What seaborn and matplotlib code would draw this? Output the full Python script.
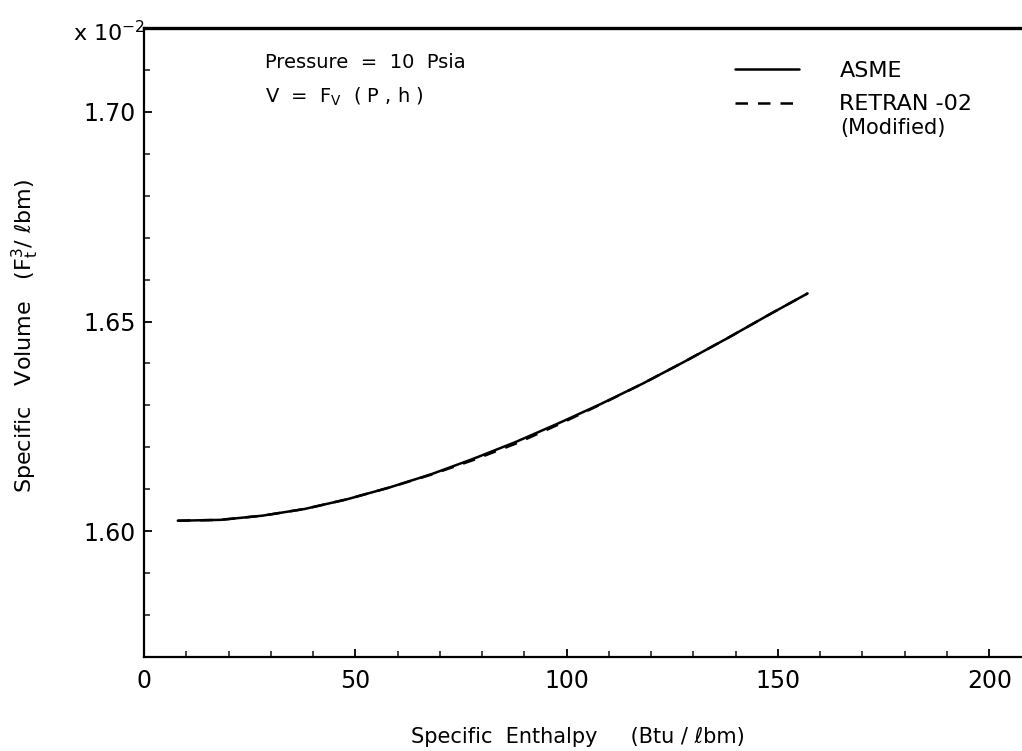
import numpy as np
import pandas as pd
import matplotlib
matplotlib.use("Agg")
import matplotlib.pyplot as plt
import seaborn as sns
from matplotlib.ticker import MultipleLocator, FixedLocator
from matplotlib.lines import Line2D

# ---- data (specific volume in units of 1e-2 ft3/lbm) ----
enthalpy = [8, 18, 28, 38, 48, 58, 68, 78, 88, 98, 108, 118, 128, 138, 148, 157]
asme = [1.6025, 1.6027, 1.6037, 1.6053, 1.6076, 1.6104, 1.6136, 1.6173,
        1.6213, 1.6257, 1.6303, 1.6352, 1.6405, 1.6460, 1.6517, 1.6567]
retran = [1.6025, 1.6027, 1.6037, 1.6053, 1.6076, 1.6104, 1.6135, 1.6170,
          1.6209, 1.6254, 1.6302, 1.6352, 1.6405, 1.6460, 1.6517, 1.6567]
x_ticks = [0, 50, 100, 150, 200]
y_ticks = [1.60, 1.65, 1.70]
y_tick_labels = ["1.60", "1.65", "1.70"]

df = pd.concat([
    pd.DataFrame({"h": enthalpy, "v": asme, "series": "ASME"}),
    pd.DataFrame({"h": enthalpy, "v": retran, "series": "RETRAN -02"}),
])

sns.set_style("ticks")
plt.rcParams['font.family'] = ['DejaVu Sans']
plt.rcParams['mathtext.fontset'] = 'dejavusans'
plt.rcParams['text.color'] = 'black'
plt.rcParams['axes.labelcolor'] = 'black'

fig = plt.figure(figsize=(10.22, 7.51), dpi=100)
W, H = 1022, 751
left, right, top, bottom = 144, 1040, 28, 657
ax = fig.add_axes([left / W, 1 - bottom / H, (right - left) / W, (bottom - top) / H])

sns.lineplot(data=df, x="h", y="v", style="series", ax=ax,
             dashes={"ASME": "", "RETRAN -02": (5, 4)},
             color="black", linewidth=1.8, legend=False, sort=False)

ax.set_xlim(0, 212)
ax.set_ylim(1.57, 1.72)
ax.xaxis.set_major_locator(FixedLocator(x_ticks))
ax.xaxis.set_minor_locator(MultipleLocator(10))
ax.yaxis.set_major_locator(FixedLocator(y_ticks))
ax.set_yticklabels(y_tick_labels)
ax.yaxis.set_minor_locator(MultipleLocator(0.01))
ax.tick_params(axis="both", which="major", direction="in", length=6, width=1.3,
               labelsize=17, colors="black")
ax.tick_params(axis="both", which="minor", direction="in", length=4, width=1.2)
ax.tick_params(axis="x", which="major", pad=9)
ax.tick_params(axis="y", which="major", pad=6)

for s in ["left", "bottom"]:
    ax.spines[s].set_linewidth(1.6)
    ax.spines[s].set_color("black")
ax.spines["top"].set_linewidth(2.4)
ax.spines["top"].set_color("black")
ax.spines["right"].set_visible(False)

ax.set_xlabel("Specific  Enthalpy     (Btu / ℓbm)", fontsize=15)
ax.set_ylabel("Specific   Volume   (F$_\\mathregular{t}^\\mathregular{3}$/ ℓbm)", fontsize=16)
ax.xaxis.set_label_coords(0.484, -0.112)
ax.yaxis.set_label_coords(-0.115, 0.51)

fig.text(73 / W, 1 - 33 / H, "x 10$^{-2}$", fontsize=16, va="center", ha="left")
fig.text(265 / W, 1 - 62 / H, "Pressure  =  10  Psia", fontsize=14, va="center", ha="left")
fig.text(265 / W, 1 - 97 / H, "V  =  F$_\\mathregular{V}$  ( P , h )", fontsize=14, va="center", ha="left")

# legend
handles = [Line2D([], [], color="black", lw=1.8),
           Line2D([], [], color="black", lw=1.8, dashes=(5, 4))]
leg = fig.legend(handles, ["ASME", "RETRAN -02"], loc="upper left",
                 bbox_to_anchor=(735 / W, 1 - 61 / H), frameon=False,
                 fontsize=16, handlelength=2.9, handletextpad=1.8,
                 borderpad=0, borderaxespad=0, labelspacing=0.6)
fig.text(840 / W, 1 - 128 / H, "(Modified)", fontsize=15, va="center", ha="left")

fig.savefig("out.png", dpi=100)
